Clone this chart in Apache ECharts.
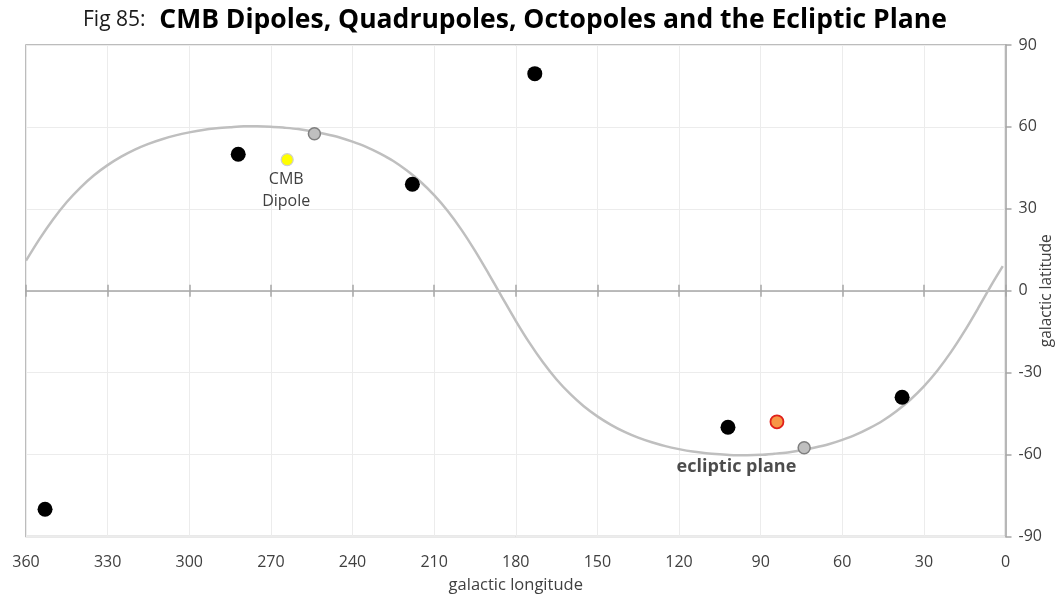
<!DOCTYPE html>
<html>
<head>
<meta charset="utf-8">
<script src="https://cdn.jsdelivr.net/npm/echarts@6/dist/echarts.min.js"></script>
<style>
html,body{margin:0;padding:0;background:#fff;}
#chart{width:1057px;height:597px;}
</style>
</head>
<body>
<div id="chart"></div>
<script>
// ---- data ----
const xTicks = [0, 30, 60, 90, 120, 150, 180, 210, 240, 270, 300, 330, 360];
const yTicks = [-90, -60, -30, 0, 30, 60, 90];

// ecliptic plane curve (galactic longitude, latitude)
const curveLon = [1, 5, 10, 15, 20, 25, 30, 35, 40, 45, 50, 55, 60, 65, 70, 75, 80, 85, 90, 95,
                  100, 105, 110, 115, 120, 125, 130, 135, 140, 145, 150, 155, 160, 165, 170, 175, 180, 185,
                  190, 195, 200, 205, 210, 215, 220, 225, 230, 235, 240, 245, 250, 255, 260, 265, 270, 275,
                  280, 285, 290, 295, 300, 305, 310, 315, 320, 325, 330, 335, 340, 345, 350, 355, 360];
const curveLat = [9, 2.4, -6.3, -14.7, -22.4, -29.2, -35, -39.9, -44, -47.5, -50.3, -52.7, -54.6, -56.2, -57.4, -58.4, -59.2, -59.7, -60.1, -60.2,
                  -60.2, -59.9, -59.5, -58.9, -58, -56.9, -55.5, -53.8, -51.7, -49.1, -46, -42.3, -37.8, -32.5, -26.2, -19, -11, -2.4,
                  6.3, 14.7, 22.4, 29.2, 35, 39.9, 44, 47.5, 50.3, 52.7, 54.6, 56.2, 57.4, 58.4, 59.2, 59.7, 60.1, 60.2,
                  60.2, 59.9, 59.5, 58.9, 58, 56.9, 55.5, 53.8, 51.7, 49.1, 46, 42.3, 37.8, 32.5, 26.2, 19, 11];

// quadrupole / octopole axes (black)
const blackLon = [353, 282, 218, 173, 102, 38];
const blackLat = [-80, 50, 39, 79.5, -50, -39];

// points on the ecliptic (grey)
const greyLon = [254, 74];
const greyLat = [57.5, -57.5];

// CMB dipole (yellow) and its antipode (orange)
const dipoleLon = [264];
const dipoleLat = [48];
const antiLon = [84];
const antiLat = [-48];

// label anchor for "ecliptic plane"
const eclLabelLon = [100];
const eclLabelLat = [-60];

const zip = (a, b) => a.map((v, i) => [v, b[i]]);

const FONT = '"Open Sans", Lato, sans-serif';
const chart = echarts.init(document.getElementById('chart'));

const xBase = { type: 'value', min: 0, max: 360, interval: 30, inverse: true, gridIndex: 0 };

chart.setOption({
  backgroundColor: '#ffffff',
  animation: false,
  title: {
    left: 78,
    top: 2,
    text: '{a|Fig 85:}{b|  CMB Dipoles, Quadrupoles, Octopoles and the Ecliptic Plane}',
    textStyle: {
      rich: {
        a: { fontFamily: FONT, fontSize: 21, fontWeight: 'normal', color: '#1a1a1a' },
        b: { fontFamily: FONT, fontSize: 26.5, fontWeight: 'bold', color: '#000000' }
      }
    }
  },
  grid: {
    left: 26, right: 51.5, top: 45, bottom: 60.5,
    outerBoundsMode: 'none', containLabel: false,
    show: true, borderColor: '#a6a6a6', borderWidth: 1.5, backgroundColor: 'transparent'
  },
  xAxis: [
    Object.assign({}, xBase, {
      position: 'bottom',
      name: 'galactic longitude', nameLocation: 'middle', nameGap: 40, nameMoveOverlap: false,
      nameTextStyle: { fontFamily: FONT, fontSize: 16.5, color: '#404040' },
      axisLine: { show: false, onZero: false },
      axisTick: { show: false },
      axisLabel: { fontFamily: FONT, fontSize: 16, color: '#404040', margin: 18 },
      splitLine: { show: true, lineStyle: { color: '#ececec', width: 1 } }
    }),
    Object.assign({}, xBase, {
      position: 'bottom',
      axisLine: { show: true, onZero: true, onZeroAxisIndex: 0, lineStyle: { color: '#a6a6a6', width: 1.5 } },
      axisTick: { show: true, inside: true, length: 6, lineStyle: { color: '#a6a6a6', width: 1.5 } },
      axisLabel: { show: false },
      splitLine: { show: false }
    }),
    Object.assign({}, xBase, {
      position: 'bottom',
      axisLine: { show: false, onZero: true, onZeroAxisIndex: 0 },
      axisTick: { show: true, inside: false, length: 6, lineStyle: { color: '#a6a6a6', width: 1.5 } },
      axisLabel: { show: false },
      splitLine: { show: false }
    })
  ],
  yAxis: {
    type: 'value', min: -90, max: 90, interval: 30, position: 'right',
    name: 'galactic latitude', nameLocation: 'middle', nameGap: 41, nameRotate: 90, nameMoveOverlap: false,
    nameTextStyle: { fontFamily: FONT, fontSize: 15.5, color: '#404040', align: 'center', verticalAlign: 'middle' },
    axisLine: { show: true, onZero: false, lineStyle: { color: '#a6a6a6', width: 1.5 } },
    axisTick: { show: true, inside: false, length: 6, lineStyle: { color: '#a6a6a6', width: 1.5 } },
    axisLabel: { fontFamily: FONT, fontSize: 16, color: '#404040', margin: 13,
                 formatter: v => (yTicks.indexOf(v) >= 0 ? String(v) : '') },
    splitLine: { show: true, lineStyle: { color: '#ececec', width: 1 } }
  },
  series: [
    {
      name: 'ecliptic plane', type: 'line', xAxisIndex: 0,
      data: zip(curveLon, curveLat), smooth: 0.3, showSymbol: false, symbol: 'none',
      lineStyle: { color: '#bfbfbf', width: 2.5 }, z: 2
    },
    {
      name: 'ecliptic label', type: 'scatter', xAxisIndex: 0,
      data: zip(eclLabelLon, eclLabelLat), symbolSize: 0, silent: true,
      label: { show: true, position: 'bottom', distance: 3, offset: [3, 0],
               formatter: 'ecliptic plane', fontFamily: FONT, fontSize: 18, fontWeight: 'bold', color: '#1f1f1f' },
      z: 3
    },
    {
      name: 'axes', type: 'scatter', xAxisIndex: 0,
      data: zip(blackLon, blackLat), symbolSize: 15,
      itemStyle: { color: '#000000', opacity: 1 }, z: 5
    },
    {
      name: 'ecliptic points', type: 'scatter', xAxisIndex: 0,
      data: zip(greyLon, greyLat), symbolSize: 12,
      itemStyle: { color: '#bfbfbf', borderColor: '#7f7f7f', borderWidth: 1.5, opacity: 1 }, z: 5
    },
    {
      name: 'CMB Dipole', type: 'scatter', xAxisIndex: 0,
      data: zip(dipoleLon, dipoleLat), symbolSize: 12,
      itemStyle: { color: '#ffff00', borderColor: '#cfcfcf', borderWidth: 1.2, opacity: 1 },
      label: { show: true, position: 'bottom', distance: 2, offset: [-1, 0], formatter: 'CMB\nDipole',
               fontFamily: FONT, fontSize: 16, lineHeight: 22, color: '#404040', align: 'center' },
      z: 5
    },
    {
      name: 'anti dipole', type: 'scatter', xAxisIndex: 0,
      data: zip(antiLon, antiLat), symbolSize: 13,
      itemStyle: { color: '#f79646', borderColor: '#e0201b', borderWidth: 1.8, opacity: 1 }, z: 5
    }
  ]
});
</script>
</body>
</html>
